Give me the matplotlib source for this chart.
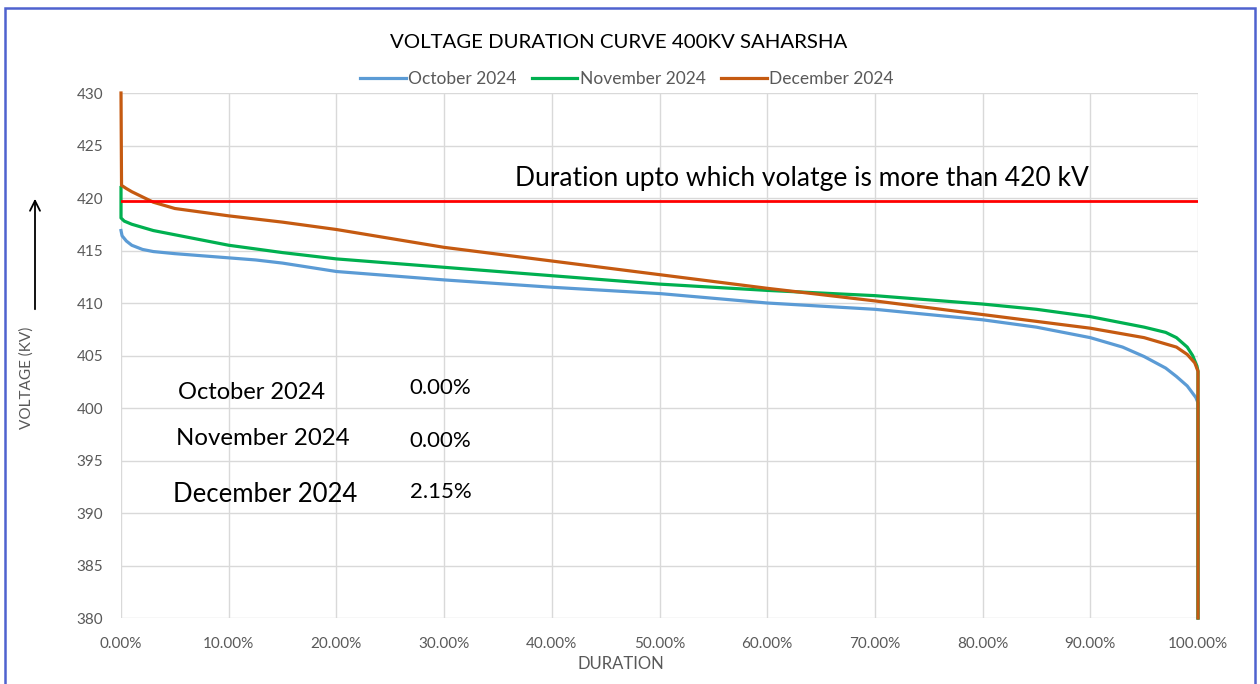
import matplotlib.pyplot as plt
from matplotlib.patches import Rectangle
from matplotlib.ticker import FuncFormatter

plt.rcParams['font.family'] = ['Lato', 'DejaVu Sans']

# duration (%) and voltage (kV)
oct_x = [0, 0.1, 0.5, 1, 2, 3, 5, 10, 12.5, 15, 17.5, 20, 30, 40, 50, 60, 70, 80, 85, 90, 93, 95, 97, 98, 99,
         99.8, 100, 100]
oct_v = [416.9, 416.4, 415.9, 415.5, 415.1, 414.9, 414.7, 414.3, 414.1, 413.8, 413.4, 413.0, 412.2, 411.5,
         410.9, 410.0, 409.4, 408.4, 407.7, 406.7, 405.8, 404.9, 403.8, 403.0, 402.1, 401.0, 400.5, 380]

nov_x = [0, 0, 0.3, 1, 2, 3, 5, 10, 15, 20, 30, 40, 50, 60, 70, 80, 85, 90, 95, 97, 98, 99, 99.5, 99.9, 100, 100]
nov_v = [421.0, 418.1, 417.8, 417.5, 417.2, 416.9, 416.5, 415.5, 414.8, 414.2, 413.4, 412.6, 411.8, 411.2,
         410.7, 409.9, 409.4, 408.7, 407.7, 407.2, 406.7, 405.8, 405.0, 404.0, 403.5, 380]

dec_x = [0, 0.05, 0.5, 1, 2, 3, 5, 10, 15, 20, 30, 40, 50, 60, 70, 80, 90, 95, 98, 99, 99.7, 100, 100]
dec_v = [430, 421.2, 420.9, 420.6, 420.1, 419.6, 419.0, 418.3, 417.7, 417.0, 415.3, 414.0, 412.7, 411.4,
         410.2, 408.9, 407.6, 406.7, 405.8, 405.1, 404.3, 403.5, 380]

months = ["October 2024", "November 2024", "December 2024"]
above_420 = ["0.00%", "0.00%", "2.15%"]
limit_kv = 419.75

fig = plt.figure(figsize=(12.6, 6.84), dpi=100)
ax = fig.add_axes([121 / 1260, 1 - 618 / 684, 1077 / 1260, 525 / 684])

ax.plot(oct_x, oct_v, color="#5B9BD5", lw=2.3, label=months[0], solid_joinstyle="round", clip_on=False)
ax.plot(nov_x, nov_v, color="#00B050", lw=2.3, label=months[1], solid_joinstyle="round", clip_on=False)
ax.plot(dec_x, dec_v, color="#C55A11", lw=2.3, label=months[2], solid_joinstyle="round", clip_on=False)
ax.plot([0, 100], [limit_kv, limit_kv], color="#FF0000", lw=2, zorder=5)

ax.set_xlim(0, 100)
ax.set_ylim(380, 430)
ax.set_xticks(range(0, 101, 10))
ax.set_yticks(range(380, 431, 5))
ax.xaxis.set_major_formatter(FuncFormatter(lambda v, p: f"{v:.2f}%"))
ax.tick_params(length=0, labelsize=11, labelcolor="#595959")
ax.tick_params(axis="x", pad=14)
ax.tick_params(axis="y", pad=13)
ax.grid(color="#D9D9D9", lw=1)
ax.set_axisbelow(True)
for s in ax.spines.values():
    s.set_visible(False)

fig.text(621 / 1260, 1 - 664 / 684, "DURATION", fontsize=12, color="#595959", ha="center", va="center")

ax.text(63.2, 421.9, "Duration upto which volatge is more than 420 kV", fontsize=19, color="black",
        ha="center", va="center")
month_y = [401.5, 397.1, 391.8]
pct_y = [401.9, 396.9, 392.0]
xs = [5.3, 5.1, 4.8]
sizes = [17, 17.3, 18.5]
for x, y, py, m, fs, pct in zip(xs, month_y, pct_y, months, sizes, above_420):
    ax.text(x, y, m, fontsize=fs, ha="left", va="center")
    ax.text(26.8, py, pct, fontsize=16, ha="left", va="center")

leg = ax.legend(loc="center", bbox_to_anchor=(627 / 1260, 1 - 79 / 684), bbox_transform=fig.transFigure,
                ncol=3, frameon=False, fontsize=12.5, handlelength=2.6, handletextpad=0.15,
                columnspacing=0.9)
for t in leg.get_texts():
    t.set_color("#595959")

fig.text(619 / 1260, 1 - 42 / 684, "VOLTAGE DURATION CURVE 400KV SAHARSHA", fontsize=14.7,
         ha="center", va="center", color="black")
fig.text(27 / 1260, 1 - 378 / 684, "VOLTAGE (KV)", rotation=90, fontsize=11, color="#595959",
         ha="center", va="center")
fig.add_artist(plt.Annotation("", xy=(35 / 1260, 1 - 196 / 684), xytext=(35 / 1260, 1 - 312 / 684),
                              xycoords="figure fraction", textcoords="figure fraction",
                              arrowprops=dict(arrowstyle="->", color="black", lw=1.3,
                                              mutation_scale=18)))

fig.add_artist(Rectangle((4.5 / 1260, -0.02), 1250 / 1260, 1.02 - 8.5 / 684, transform=fig.transFigure,
                         fill=False, edgecolor="#4F62CF", lw=1.8))

fig.savefig("out.png", dpi=100)
